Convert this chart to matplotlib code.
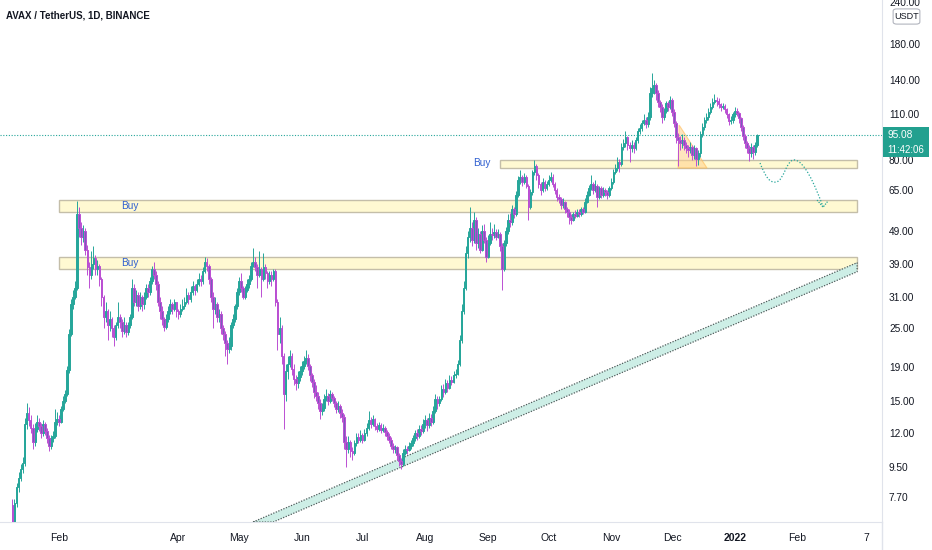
import matplotlib
matplotlib.use('Agg')
import matplotlib.pyplot as plt
from matplotlib.patches import Rectangle, Polygon, FancyBboxPatch, PathPatch
from matplotlib.path import Path
from matplotlib.lines import Line2D
from matplotlib.ticker import FixedLocator, FuncFormatter, NullLocator

# days are counted from 2021-01-01 (day 0); one candle per day
first_day = 8
first_open = 7.3
closes = [
    6.4, 7.4, 8.3, 8.8, 9.4, 9.8, 12.8, 13.8, 13.2, 12.5,
    11.3, 12.4, 13.0, 12.6, 12.0, 12.8, 12.2, 11.6, 11.0, 11.6,
    11.8, 13.0, 13.3, 13.0, 14.2, 15.0, 15.8, 18.6, 24.0, 29.5,
    31.0, 33.0, 55.0, 50.0, 47.0, 49.0, 43.0, 38.0, 36.0, 39.0,
    40.5, 37.5, 38.5, 35.0, 31.0, 27.0, 28.0, 25.5, 26.5, 25.0,
    23.5, 25.5, 27.0, 26.0, 24.5, 25.5, 24.2, 25.5, 27.0, 33.0,
    30.0, 31.5, 29.0, 31.0, 29.5, 31.0, 33.0, 32.0, 34.5, 37.5,
    36.0, 34.0, 30.0, 28.0, 26.5, 25.2, 26.5, 28.0, 29.5, 28.5,
    29.8, 28.0, 27.5, 28.5, 29.0, 30.0, 31.5, 30.5, 32.0, 33.5,
    32.5, 34.0, 35.0, 34.5, 37.0, 39.5, 38.5, 35.0, 31.0, 28.5,
    29.5, 27.0, 27.5, 25.0, 24.0, 22.5, 21.6, 22.0, 25.5, 26.5,
    29.0, 32.0, 34.5, 33.0, 31.0, 32.5, 34.0, 35.0, 38.5, 39.5,
    38.0, 36.0, 37.5, 35.0, 38.0, 36.5, 34.5, 36.0, 35.0, 37.0,
    30.0, 24.0, 25.0, 20.5, 15.8, 18.5, 19.5, 20.5, 18.8, 17.5,
    17.0, 17.8, 18.5, 19.2, 19.8, 20.3, 19.2, 18.0, 17.2, 16.0,
    15.6, 14.8, 14.0, 14.3, 15.3, 15.6, 15.0, 15.8, 15.4, 14.8,
    14.2, 14.5, 13.8, 13.5, 11.3, 10.8, 11.3, 10.6, 10.5, 11.2,
    11.7, 11.5, 11.9, 11.5, 12.0, 12.5, 13.2, 12.8, 13.3, 12.6,
    12.4, 12.7, 12.3, 12.5, 12.1, 11.8, 11.5, 11.0, 10.8, 10.9,
    10.3, 9.9, 9.7, 10.5, 10.8, 10.7, 11.0, 11.2, 11.6, 12.0,
    11.8, 12.4, 12.2, 12.8, 13.2, 12.7, 13.4, 13.0, 14.0, 15.3,
    14.8, 15.2, 16.3, 16.0, 17.0, 16.5, 17.4, 17.2, 18.0, 18.2,
    19.5, 23.0, 28.0, 33.0, 42.0, 47.0, 50.0, 46.0, 53.0, 45.0,
    48.0, 43.0, 49.0, 46.0, 41.0, 45.0, 48.0, 47.5, 48.5, 47.0,
    48.0, 44.0, 37.5, 45.0, 49.0, 53.0, 52.0, 57.0, 55.0, 63.0,
    70.0, 71.0, 69.0, 71.0, 67.0, 58.0, 64.0, 74.0, 77.0, 72.0,
    68.0, 65.0, 69.0, 66.0, 68.0, 70.0, 71.0, 68.0, 65.0, 62.0,
    61.0, 58.5, 60.0, 57.0, 56.0, 54.0, 53.0, 55.0, 54.5, 56.0,
    55.0, 57.0, 56.0, 60.0, 63.0, 66.0, 68.0, 65.0, 67.0, 62.0,
    66.0, 63.0, 65.0, 64.0, 63.0, 66.0, 69.0, 74.0, 76.0, 79.0,
    78.0, 88.0, 90.0, 94.0, 89.0, 87.0, 89.0, 87.0, 92.0, 98.0,
    100.0, 104.0, 106.0, 103.0, 108.0, 128.0, 132.0, 135.0, 128.0, 120.0,
    116.0, 108.0, 113.0, 119.0, 116.0, 122.0, 112.0, 104.0, 94.0, 92.0,
    90.0, 92.0, 89.0, 87.0, 86.0, 88.0, 83.0, 87.0, 81.0, 84.0,
    96.0, 101.0, 106.0, 108.0, 112.0, 116.0, 120.0, 122.0, 121.0, 118.0,
    116.0, 117.0, 114.0, 110.0, 105.0, 106.0, 110.0, 113.0, 111.0, 107.0,
    101.0, 95.0, 90.0, 87.0, 84.0, 88.0, 85.0, 89.0, 95.08,
]
highs = [
    7.6, 7.6, 8.5, 9.2, 9.7, 10.2, 13.4, 14.8, 14.4, 13.6,
    12.8, 12.9, 13.6, 13.4, 12.9, 13.2, 13.0, 12.5, 11.9, 11.9,
    12.2, 14.2, 13.9, 13.6, 14.5, 15.6, 16.2, 19.2, 24.8, 30.5,
    32.5, 34.5, 60.5, 58.0, 52.0, 51.0, 50.0, 44.5, 39.5, 42.5,
    44.0, 41.5, 40.0, 39.0, 35.5, 31.5, 30.0, 28.5, 28.0, 27.0,
    25.5, 26.0, 30.0, 27.5, 26.5, 27.0, 26.0, 26.0, 27.5, 35.0,
    34.0, 32.5, 32.0, 32.0, 31.5, 32.0, 34.0, 34.0, 35.5, 38.5,
    39.5, 37.0, 34.5, 31.0, 29.0, 27.0, 27.5, 29.0, 30.5, 30.0,
    30.5, 30.0, 28.5, 29.5, 30.5, 31.0, 33.0, 32.0, 33.5, 34.5,
    34.0, 35.0, 36.5, 36.0, 38.0, 41.0, 40.5, 39.0, 35.5, 32.0,
    31.0, 30.0, 28.5, 28.0, 25.5, 24.5, 23.0, 23.5, 26.0, 27.5,
    29.5, 33.0, 35.5, 36.5, 33.5, 33.5, 35.0, 36.0, 39.5, 43.5,
    41.0, 39.0, 42.5, 38.0, 42.0, 39.0, 37.0, 37.0, 37.0, 37.5,
    37.5, 30.5, 27.0, 25.5, 21.0, 19.5, 20.5, 21.5, 21.0, 19.5,
    18.0, 18.5, 19.2, 19.8, 20.5, 21.5, 20.8, 19.5, 18.3, 17.5,
    16.8, 16.0, 15.2, 14.8, 15.8, 16.4, 15.9, 16.2, 16.0, 15.6,
    15.0, 15.0, 14.7, 14.2, 13.7, 11.8, 11.8, 11.5, 10.9, 11.5,
    12.0, 12.0, 12.3, 12.0, 12.4, 12.9, 14.0, 13.5, 13.6, 13.4,
    12.9, 13.0, 12.9, 12.8, 12.6, 12.3, 12.0, 11.7, 11.2, 11.1,
    11.0, 10.5, 10.1, 10.8, 11.1, 11.0, 11.3, 11.5, 11.9, 12.3,
    12.4, 12.7, 12.7, 13.3, 13.6, 13.4, 13.8, 13.7, 14.5, 15.8,
    15.6, 15.6, 16.8, 16.9, 17.5, 17.4, 18.0, 17.9, 18.5, 18.8,
    20.0, 23.8, 29.5, 34.5, 44.0, 49.0, 58.0, 52.0, 56.0, 54.0,
    50.0, 49.0, 51.0, 51.5, 47.0, 47.5, 52.0, 50.0, 51.5, 49.5,
    49.5, 48.5, 45.0, 46.0, 50.5, 55.0, 55.5, 58.5, 58.0, 64.5,
    71.5, 75.0, 72.0, 73.0, 72.0, 68.0, 65.5, 75.0, 80.0, 78.0,
    73.0, 69.0, 70.5, 70.0, 69.5, 72.0, 74.0, 72.5, 69.0, 66.0,
    63.5, 62.0, 61.5, 60.5, 58.0, 57.0, 55.0, 56.0, 56.5, 57.0,
    57.0, 58.0, 58.0, 61.5, 64.5, 67.5, 72.0, 69.0, 70.0, 68.0,
    67.0, 67.0, 66.5, 66.0, 65.0, 67.0, 70.5, 75.5, 78.0, 82.0,
    81.0, 90.0, 93.0, 98.0, 95.0, 91.0, 92.0, 91.0, 94.0, 100.0,
    103.0, 106.0, 110.0, 108.0, 112.0, 133.0, 147.0, 140.0, 137.0, 130.0,
    122.0, 118.0, 115.0, 121.0, 121.0, 125.0, 123.0, 114.0, 105.0, 97.0,
    95.0, 96.0, 94.0, 91.0, 89.0, 91.0, 89.0, 89.0, 88.0, 86.0,
    98.0, 104.0, 108.0, 111.0, 115.0, 119.0, 123.0, 127.0, 124.0, 123.0,
    119.0, 119.0, 118.0, 115.0, 111.0, 109.0, 112.0, 116.0, 115.0, 112.0,
    108.0, 102.0, 96.0, 91.5, 89.0, 90.0, 89.0, 91.0, 96.0,
]
lows = [
    6.0, 6.2, 7.2, 8.0, 8.6, 9.1, 9.6, 12.4, 12.6, 12.0,
    10.8, 11.0, 12.1, 12.2, 11.6, 11.8, 11.9, 11.2, 10.6, 10.8,
    11.3, 11.6, 12.7, 12.6, 12.9, 14.0, 14.8, 15.6, 18.3, 23.6,
    28.5, 30.5, 32.5, 47.0, 44.5, 45.5, 41.5, 36.0, 33.0, 35.0,
    37.5, 36.0, 36.0, 33.5, 29.0, 25.0, 26.0, 23.0, 24.5, 23.5,
    22.0, 23.0, 25.0, 25.0, 23.5, 24.0, 23.5, 23.8, 25.0, 26.5,
    29.0, 29.0, 28.0, 28.5, 28.0, 28.5, 30.5, 31.0, 31.5, 34.0,
    35.0, 32.5, 29.0, 26.5, 25.5, 24.5, 24.8, 26.0, 27.5, 27.5,
    28.0, 27.0, 26.5, 27.0, 28.0, 28.5, 29.5, 29.5, 30.0, 31.5,
    31.5, 32.0, 33.5, 33.5, 34.0, 36.5, 37.0, 34.0, 30.0, 25.0,
    27.5, 26.0, 26.0, 24.0, 23.0, 20.5, 19.4, 21.0, 21.5, 25.0,
    26.0, 28.5, 31.5, 32.0, 30.5, 30.5, 32.0, 33.0, 34.5, 38.0,
    37.0, 33.0, 35.5, 31.0, 34.5, 35.0, 33.0, 34.0, 33.5, 34.5,
    29.0, 21.5, 22.5, 19.5, 12.4, 15.0, 17.5, 19.0, 18.0, 16.8,
    16.2, 16.5, 17.3, 18.0, 18.8, 19.4, 18.6, 17.3, 16.6, 15.4,
    15.0, 14.2, 13.3, 13.6, 14.0, 15.0, 14.6, 14.8, 15.0, 14.4,
    13.8, 13.9, 13.4, 13.0, 10.8, 9.5, 10.5, 10.2, 10.0, 10.3,
    11.0, 11.2, 11.3, 11.2, 11.4, 11.8, 12.3, 12.5, 12.6, 12.3,
    12.1, 12.2, 12.0, 12.1, 11.8, 11.5, 11.2, 10.8, 10.5, 10.5,
    10.0, 9.6, 9.4, 9.6, 10.3, 10.4, 10.6, 10.8, 11.0, 11.4,
    11.5, 11.6, 11.9, 12.0, 12.5, 12.2, 12.5, 12.6, 12.8, 13.8,
    14.2, 14.5, 15.0, 15.5, 15.8, 16.0, 16.3, 16.8, 17.0, 17.6,
    18.0, 19.2, 22.5, 27.5, 32.5, 40.5, 45.5, 44.0, 45.0, 43.0,
    43.5, 42.0, 42.5, 45.0, 39.5, 40.5, 44.5, 46.0, 46.5, 46.0,
    46.5, 42.5, 32.5, 37.0, 44.0, 48.0, 50.5, 51.0, 53.5, 54.5,
    62.0, 68.0, 67.0, 68.0, 66.0, 53.0, 57.0, 63.0, 72.0, 70.0,
    66.0, 63.0, 64.0, 64.5, 65.0, 67.0, 69.0, 66.5, 63.5, 60.5,
    59.5, 57.0, 57.5, 55.5, 54.0, 51.5, 51.5, 52.5, 53.5, 54.0,
    54.0, 54.5, 55.0, 55.5, 59.5, 62.5, 65.0, 63.5, 64.0, 58.0,
    61.0, 61.5, 62.0, 62.5, 61.0, 62.0, 65.0, 68.0, 72.5, 74.5,
    74.0, 77.0, 86.0, 88.0, 86.0, 79.0, 85.0, 84.0, 86.0, 90.0,
    96.0, 98.0, 102.0, 100.0, 101.0, 106.0, 124.0, 127.0, 122.0, 116.0,
    112.0, 104.0, 106.0, 111.0, 113.0, 114.0, 109.0, 101.0, 90.0, 77.0,
    86.0, 87.0, 86.0, 84.0, 82.0, 84.0, 80.0, 81.0, 77.0, 77.5,
    82.0, 94.0, 99.0, 104.0, 106.0, 110.0, 114.0, 118.0, 117.0, 115.0,
    113.0, 114.0, 111.0, 107.0, 102.0, 103.0, 104.0, 108.0, 109.0, 104.0,
    98.0, 92.0, 87.0, 84.0, 79.5, 82.0, 80.5, 83.0, 88.0,
]

last_price = 95.08
countdown = '11:42:06'

month_days = [31, 90, 120, 151, 181, 212, 243, 273, 304, 334, 365, 396, 430]
month_labels = ['Feb', 'Apr', 'May', 'Jun', 'Jul', 'Aug', 'Sep', 'Oct', 'Nov',
                'Dec', '2022', 'Feb', '7']
price_ticks = [7.7, 9.5, 12, 15, 19, 25, 31, 39, 49, 65, 80, 110, 140, 180, 240]

# support zones drawn on the chart
zone_start_days = [249.0, 31.0, 31.0]
zone_end_day = 425.5
zone_tops = [80.2, 60.8, 40.8]
zone_bottoms = [75.8, 55.9, 37.6]
buy_days = [240.1, 66.1, 66.1]
buy_prices = [78.5, 58.2, 39.2]

# rising trend channel
channel_days = [126.9, 425.5, 425.5, 136.9]
channel_prices = [6.49, 39.3, 36.9, 6.49]

# small triangle pattern in December
tri_days = [337.5, 351.3, 337.0]
tri_prices = [102.2, 75.8, 75.8]

# projected path (curve control points) and arrow head
proj_days = [377.5, 380.5, 382.5, 385.4, 389.4, 390.4, 394.3, 399.3, 404.7, 408.7]
proj_prices = [78.5, 70.7, 68.3, 68.8, 69.3, 80.2, 80.2, 80.2, 67.4, 57.8]
head_days = [405.7, 408.7, 411.1]
head_prices = [60.7, 57.8, 60.3]

UP = '#26a69a'
DOWN_EDGE = '#bb4fd3'
DOWN_FACE = '#7a5cbc'
TEXT = '#131722'

plt.rcParams['font.family'] = ['Liberation Sans', 'DejaVu Sans']

fig = plt.figure(figsize=(9.32, 5.5), dpi=100)
ax = fig.add_axes([0, 28 / 550, 882 / 932, 522 / 550])
ax.set_yscale('log')
ax.set_xlim(1.835, 437.8)
ax.set_ylim(6.49, 243.5)

days = list(range(first_day, first_day + len(closes)))
opens = [first_open] + closes[:-1]

# zones
for s, top, bot in zip(zone_start_days, zone_tops, zone_bottoms):
    ax.add_patch(Rectangle((s, bot), zone_end_day - s, top - bot,
                           facecolor='#fff9d2', edgecolor='#c4bea9', lw=1.0, zorder=1))
for d, p in zip(buy_days, buy_prices):
    ax.text(d, p, 'Buy', color='#2f5fd0', fontsize=7.2, ha='center', va='center', zorder=5)

# trend channel
ax.add_patch(Polygon(list(zip(channel_days, channel_prices)), closed=True,
                     facecolor='#cdeee6', edgecolor='#4f5b5b', lw=0.9,
                     linestyle=(0, (1, 1.2)), zorder=1))

# triangle
ax.add_patch(Polygon(list(zip(tri_days, tri_prices)), closed=True,
                     facecolor='#ffd08a', edgecolor='#ffb74d', lw=0.8,
                     alpha=0.55, zorder=2))

# candles
up_d, up_b, up_h, dn_d, dn_b, dn_h = [], [], [], [], [], []
for d, o, c in zip(days, opens, closes):
    bot = min(o, c)
    height = max(abs(c - o), bot * 0.004)
    if c >= o:
        up_d.append(d); up_b.append(bot); up_h.append(height)
    else:
        dn_d.append(d); dn_b.append(bot); dn_h.append(height)
wick_colors = [UP if c >= o else DOWN_EDGE for o, c in zip(opens, closes)]
ax.vlines(days, lows, highs, colors=wick_colors, lw=0.7, zorder=3)
ax.bar(up_d, up_h, bottom=up_b, width=0.8, color=UP, edgecolor=UP, lw=0.7, zorder=4)
ax.bar(dn_d, dn_h, bottom=dn_b, width=0.8, color=DOWN_FACE, edgecolor=DOWN_EDGE,
       lw=0.7, zorder=4)

# last price line
ax.axhline(last_price, color=UP, lw=0.8, linestyle=(0, (1, 1.5)), zorder=2)

# projected move
codes = [Path.MOVETO] + [Path.CURVE4] * 9
proj = Path(list(zip(proj_days, proj_prices)), codes)
ax.add_patch(PathPatch(proj, facecolor='none', edgecolor=UP, lw=0.9,
                       linestyle=(0, (1, 1.5)), zorder=5))
ax.plot(head_days, head_prices, color=UP, lw=0.9, linestyle=(0, (1, 1)), zorder=5)

# axes styling
for side in ['top', 'left']:
    ax.spines[side].set_visible(False)
for side in ['right', 'bottom']:
    ax.spines[side].set_color('#e0e3eb')
ax.yaxis.tick_right()
ax.yaxis.set_major_locator(FixedLocator(price_ticks))
ax.yaxis.set_minor_locator(NullLocator())
ax.yaxis.set_major_formatter(FuncFormatter(lambda v, pos: f'{v:.2f}'))
ax.set_xticks(month_days)
ax.set_xticklabels(month_labels)
ax.get_xticklabels()[10].set_fontweight('bold')
ax.tick_params(axis='y', length=0, pad=5, labelsize=7.3, colors=TEXT)
ax.tick_params(axis='x', length=0, pad=8, labelsize=7.5, colors=TEXT)

fig.add_artist(Line2D([882 / 932, 882 / 932], [0, 28 / 550], color='#e0e3eb', lw=1))

# title
fig.text(6 / 932, 1 - 15 / 550, 'AVAX / TetherUS, 1D, BINANCE', fontsize=7,
         fontweight='bold', color=TEXT, ha='left', va='center')

# currency badge
fig.patches.append(FancyBboxPatch((895 / 932, 1 - 23 / 550), 23 / 932, 13 / 550,
                                  boxstyle='round,pad=0.002,rounding_size=0.004',
                                  transform=fig.transFigure, facecolor='white',
                                  edgecolor='#b2b5be', lw=0.8))
fig.text(906.5 / 932, 1 - 16.5 / 550, 'USDT', fontsize=6.5, color=TEXT,
         ha='center', va='center')

# last price badge
fig.patches.append(Rectangle((883 / 932, 1 - 157 / 550), 46 / 932, 30 / 550,
                             transform=fig.transFigure, facecolor='#22a08f',
                             edgecolor='none'))
fig.text(887 / 932, 1 - 135 / 550, f'{last_price:.2f}', fontsize=7.3, color='white',
         ha='left', va='center')
fig.text(887 / 932, 1 - 150 / 550, countdown, fontsize=7, color='white',
         ha='left', va='center')

fig.savefig('out.png', dpi=100)
